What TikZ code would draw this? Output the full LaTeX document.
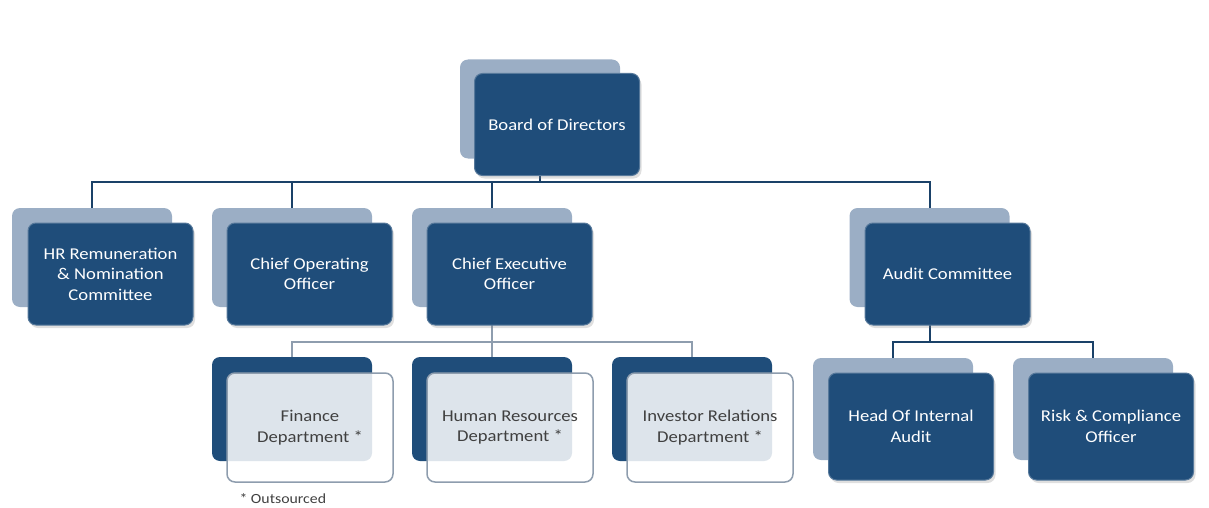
\documentclass[tikz,border=0pt]{standalone}
\usepackage{fontspec}
\setmainfont{Carlito}[FakeStretch=1.13]
\usepackage{tikz}
\usetikzlibrary{positioning,backgrounds,shadows}
\definecolor{navy}{RGB}{31,77,122}
\definecolor{paleblue}{RGB}{155,174,197}
\definecolor{linkgray}{RGB}{142,157,174}
\definecolor{textgray}{RGB}{64,64,64}

\begin{document}
\begin{tikzpicture}[x=1pt,y=-1pt,font=\fontsize{16.5}{20.5}\selectfont,
  back/.style={rectangle,rounded corners=8pt,fill=paleblue,minimum width=160pt,minimum height=99pt},
  front/.style={rectangle,rounded corners=8pt,fill=navy,draw=navy!75!white,line width=1pt,text=white,align=center,minimum width=165pt,minimum height=102pt,drop shadow={shadow xshift=2pt,shadow yshift=-3pt,opacity=0.25}},
  deptback/.style={back,fill=navy,minimum height=104pt},
  deptfront/.style={rectangle,rounded corners=8pt,fill=white,fill opacity=0.85,text opacity=1,draw=linkgray,line width=1.5pt,text=textgray,align=center,minimum width=166pt,minimum height=109pt},
  link/.style={draw=navy!85!black,line width=2pt},
  graylink/.style={draw=linkgray,line width=2pt}]

    \useasboundingbox (0,0) rectangle (1209,508);

    % Board
    \node [back] at (540,109) (boardB) {};
    \node [front] at (557,124.5) (board) {Board of Directors};

    % First level
    \node [back] at (92,257.5) (hrB) {};
    \node [front] at (110.5,274) (hr) {HR Remuneration\\ \& Nomination\\ Committee};
    \node [back] at (292,257.5) (cooB) {};
    \node [front] at (309.5,274) (coo) {Chief Operating\\ Officer};
    \node [back] at (492,257.5) (ceoB) {};
    \node [front] at (509.5,274) (ceo) {Chief Executive\\ Officer};
    \node [back] at (929.5,257.5) (auditB) {};
    \node [front] at (947.5,274) (audit) {Audit Committee};

    % Departments under the CEO
    \node [deptback] at (292,409) (finB) {};
    \node [deptfront] at (310,427.5) (fin) {Finance\\ Department *};
    \node [deptback] at (492,409) (hrdB) {};
    \node [deptfront] at (510,427.5) (hrd) {Human Resources\\ Department *};
    \node [deptback] at (692,409) (irB) {};
    \node [deptfront] at (710,427.5) (ir) {Investor Relations\\ Department *};

    % Under the audit committee
    \node [back,minimum height=102pt] at (893,409) (headB) {};
    \node [front,minimum height=107pt] at (911,426.5) (head) {Head Of Internal\\ Audit};
    \node [back,minimum height=102pt] at (1093,409) (riskB) {};
    \node [front,minimum height=107pt] at (1111,426.5) (risk) {Risk \& Compliance\\ Officer};

    \node [anchor=base west,text=textgray,font=\fontsize{14}{16}\selectfont] at (236,503) (note) {* Outsourced};

    % Connectors
    \begin{scope}[on background layer]
    \coordinate (top) at (540,182);
    \coordinate (ceobus) at (492,342);
    \coordinate (auditbus) at (929.5,342);
    \path [link] (boardB.south) -- (top)
      (top) -| (hrB.north) (top) -| (cooB.north)
      (top) -| (ceoB.north) (top) -| (auditB.north);
    \path [graylink] (ceoB.south) -- (ceobus)
      (ceobus) -| (finB.north) (ceobus) -| (hrdB.north) (ceobus) -| (irB.north);
    \path [link] (auditB.south) -- (auditbus)
      (auditbus) -| (headB.north) (auditbus) -| (riskB.north);
    \end{scope}
\end{tikzpicture}
\end{document}
